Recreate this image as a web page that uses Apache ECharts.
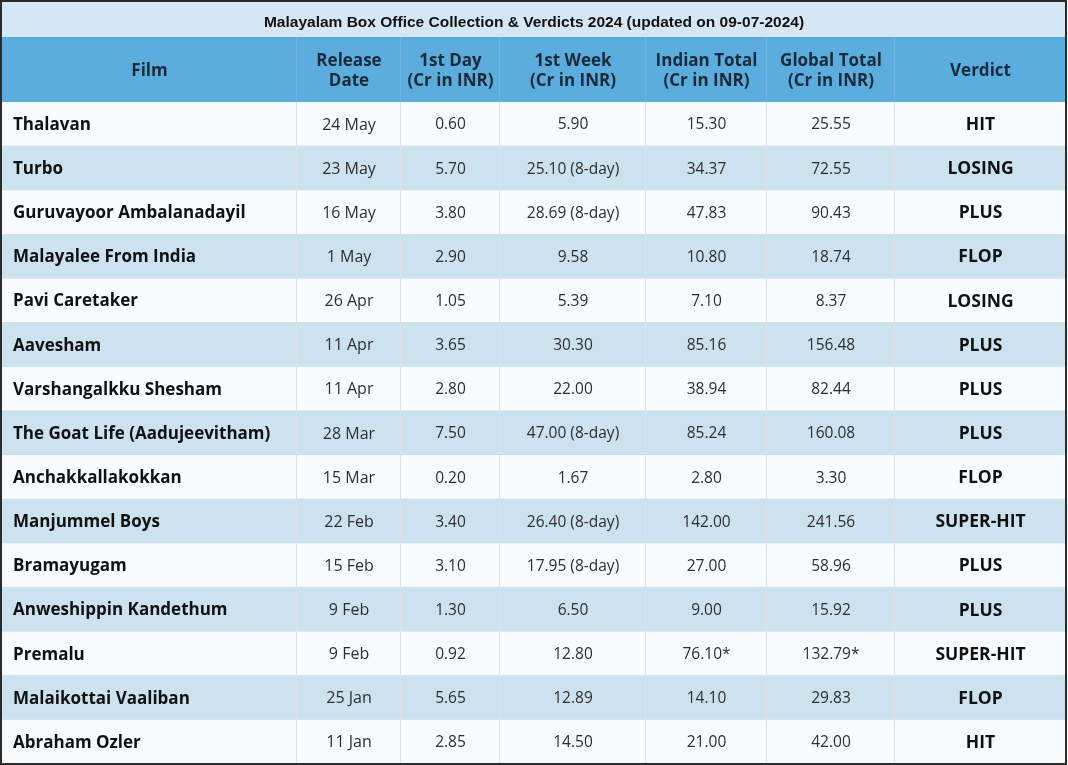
<!DOCTYPE html>
<html>
<head>
<meta charset="utf-8">
<script src="https://cdn.jsdelivr.net/npm/echarts@6/dist/echarts.min.js"></script>
<style>html,body{margin:0;padding:0;background:#fff}#c{width:1068px;height:765px}</style>
</head>
<body>
<div id="c"></div>
<script>
const titleText = 'Malayalam Box Office Collection & Verdicts 2024 (updated on 09-07-2024)';
const headers = ['Film', 'Release\nDate', '1st Day\n(Cr in INR)', '1st Week\n(Cr in INR)', 'Indian Total\n(Cr in INR)', 'Global Total\n(Cr in INR)', 'Verdict'];
const films = ['Thalavan','Turbo','Guruvayoor Ambalanadayil','Malayalee From India','Pavi Caretaker','Aavesham','Varshangalkku Shesham','The Goat Life (Aadujeevitham)','Anchakkallakokkan','Manjummel Boys','Bramayugam','Anweshippin Kandethum','Premalu','Malaikottai Vaaliban','Abraham Ozler'];
const releaseDates = ['24 May','23 May','16 May','1 May','26 Apr','11 Apr','11 Apr','28 Mar','15 Mar','22 Feb','15 Feb','9 Feb','9 Feb','25 Jan','11 Jan'];
const firstDay = ['0.60','5.70','3.80','2.90','1.05','3.65','2.80','7.50','0.20','3.40','3.10','1.30','0.92','5.65','2.85'];
const firstWeek = ['5.90','25.10 (8-day)','28.69 (8-day)','9.58','5.39','30.30','22.00','47.00 (8-day)','1.67','26.40 (8-day)','17.95 (8-day)','6.50','12.80','12.89','14.50'];
const indianTotal = ['15.30','34.37','47.83','10.80','7.10','85.16','38.94','85.24','2.80','142.00','27.00','9.00','76.10*','14.10','21.00'];
const globalTotal = ['25.55','72.55','90.43','18.74','8.37','156.48','82.44','160.08','3.30','241.56','58.96','15.92','132.79*','29.83','42.00'];
const verdicts = ['HIT','LOSING','PLUS','FLOP','LOSING','PLUS','PLUS','PLUS','FLOP','SUPER-HIT','PLUS','PLUS','SUPER-HIT','FLOP','HIT'];

// layout (pixels)
const colWidths = [295, 104, 99, 146, 121, 128, 171];
const colStarts = colWidths.map((w, i) => colWidths.slice(0, i).reduce((a, b) => a + b, 0));
const totalW = colWidths.reduce((a, b) => a + b, 0);

const columns = [films, releaseDates, firstDay, firstWeek, indianTotal, globalTotal, verdicts];
const bodyData = [];
films.forEach((f, r) => {
  columns.forEach((col, c) => bodyData.push([colStarts[c], r, c, col[r]]));
});
const headData = headers.map((h, c) => [colStarts[c], 0, c, h]);

const FONT = 'Open Sans';
function cellFont(c) {
  if (c === 0) return '700 17px "' + FONT + '"';
  if (c === 6) return '700 17.5px "' + FONT + '"';
  if (c === 1) return '400 16px "' + FONT + '"';
  return '400 15.5px "' + FONT + '"';
}
function bodyRender(params, api) {
  const c = api.value(2);
  const r = api.value(1);
  const p = api.coord([api.value(0), r]);
  const w = api.size([colWidths[c], 0])[0];
  const h = api.size([0, 1])[1];
  const x = p[0], y = p[1] - h / 2;
  const txt = columns[c][r];
  const bold = (c === 0 || c === 6);
  return {
    type: 'group',
    children: [
      { type: 'rect', shape: { x: x, y: y, width: w, height: h },
        style: { fill: r % 2 === 0 ? '#f9fcfe' : '#cde2ef', stroke: null } },
      { type: 'line', shape: { x1: x, y1: y + h, x2: x + w, y2: y + h },
        style: { stroke: r % 2 === 0 ? '#c6dbe8' : '#bfd7e6', lineWidth: 1 } },
      { type: 'line', shape: { x1: x + w - 0.5, y1: y, x2: x + w - 0.5, y2: y + h },
        style: { stroke: c === 6 ? 'rgba(0,0,0,0)' : '#dbe3e8', lineWidth: 1 } },
      { type: 'text', style: {
          text: txt, x: c === 0 ? x + 11 : x + w / 2, y: y + h / 2 + 1,
          align: c === 0 ? 'left' : 'center', verticalAlign: 'middle',
          fill: bold ? '#111' : '#2e2e2e',
          font: cellFont(c) } }
    ]
  };
}
function headRender(params, api) {
  const c = api.value(2);
  const p = api.coord([api.value(0), 0]);
  const w = api.size([colWidths[c], 0])[0];
  const h = api.size([0, 1])[1];
  const x = p[0], y = p[1] - h / 2;
  return {
    type: 'group',
    children: [
      { type: 'rect', shape: { x: x, y: y, width: w, height: h }, style: { fill: '#5badde' } },
      { type: 'line', shape: { x1: x + w - 0.5, y1: y, x2: x + w - 0.5, y2: y + h },
        style: { stroke: c === 6 ? 'rgba(0,0,0,0)' : '#6fb7e2', lineWidth: 1 } },
      { type: 'text', style: {
          text: headers[c], x: x + w / 2, y: y + h / 2 + 2, align: 'center', verticalAlign: 'middle',
          fill: '#1b2a3a', font: '700 17px "' + FONT + '"', lineHeight: 20 } }
    ]
  };
}

const chart = echarts.init(document.getElementById('c'), null, { renderer: 'canvas' });
chart.setOption({
  animation: false,
  backgroundColor: '#ffffff',
  title: {
    text: titleText, left: 'center', top: 10,
    textStyle: { fontFamily: 'Liberation Sans', fontWeight: 'bold', fontSize: 15.5, color: '#111' }
  },
  graphic: [
    { type: 'rect', z: -1, shape: { x: 1, y: 1, width: 1066, height: 36 }, style: { fill: '#d5e7f4' } },
    { type: 'rect', z: 100, shape: { x: 1, y: 1, width: 1065, height: 763 }, style: { fill: null, stroke: '#2b2b2b', lineWidth: 2 } }
  ],
  grid: [
    { left: 2, width: totalW, top: 37, height: 65 },
    { left: 2, width: totalW, top: 102, height: 662 }
  ],
  xAxis: [
    { gridIndex: 0, type: 'value', min: 0, max: totalW, show: false },
    { gridIndex: 1, type: 'value', min: 0, max: totalW, show: false }
  ],
  yAxis: [
    { gridIndex: 0, type: 'category', data: ['header'], show: false },
    { gridIndex: 1, type: 'category', data: films, inverse: true, show: false }
  ],
  series: [
    { type: 'custom', xAxisIndex: 0, yAxisIndex: 0, renderItem: headRender, data: headData, silent: true },
    { type: 'custom', xAxisIndex: 1, yAxisIndex: 1, renderItem: bodyRender, data: bodyData, silent: true }
  ]
});
</script>
</body>
</html>
